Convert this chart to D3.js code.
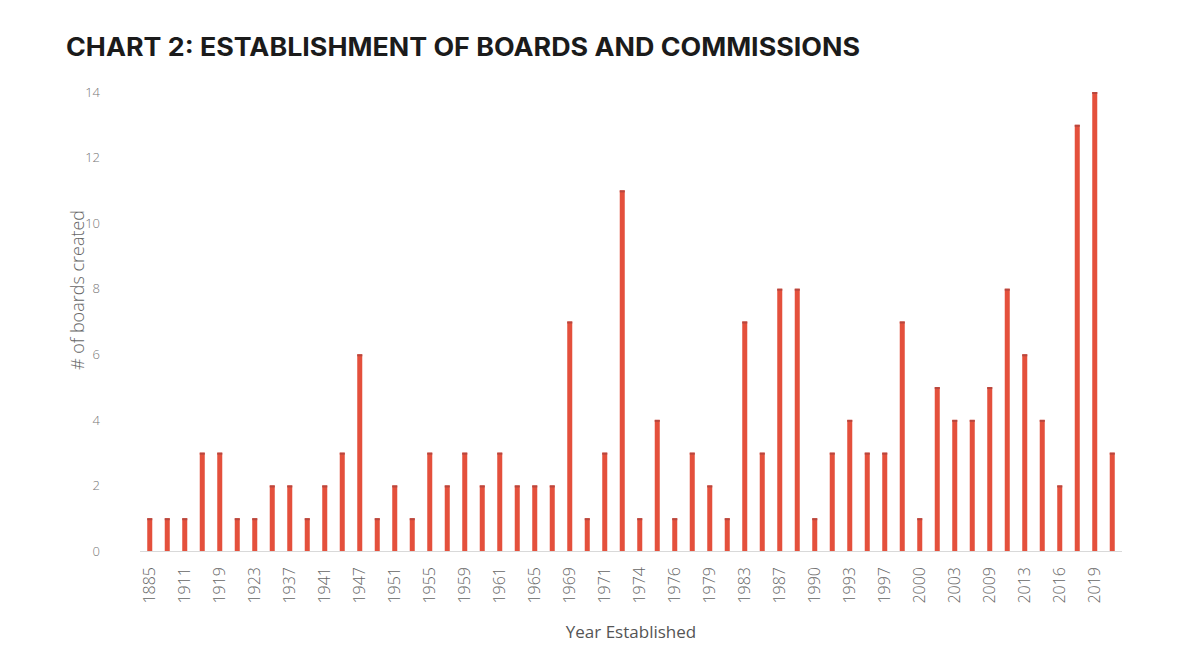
<!DOCTYPE html>
<html><head><meta charset="utf-8">
<script src="https://cdn.jsdelivr.net/npm/d3@7"></script>
<style>body{margin:0;background:#fff;} svg{display:block;}</style>
</head><body>
<script>
const years = ["1885","1909","1911","1913","1919","1921","1923","1930","1937","1939","1941","1945","1947","1949","1951","1953","1955","1957","1959","1960","1961","1963","1965","1967","1969","1970","1971","1972","1974","1975","1976","1977","1979","1981","1983","1985","1987","1989","1990","1991","1993","1995","1997","1998","2000","2001","2003","2005","2009","2011","2013","2015","2016","2018","2019","2020"];
const boards = [1,1,1,3,3,1,1,2,2,1,2,3,6,1,2,1,3,2,3,2,3,2,2,2,7,1,3,11,1,4,1,3,2,1,7,3,8,8,1,3,4,3,3,7,1,5,4,4,5,8,6,4,2,13,14,3];
const yTicks = [0,2,4,6,8,10,12,14];

const W=1194,H=664;
const svg=d3.select("body").append("svg").attr("width",W).attr("height",H);

svg.append("text").attr("x",66).attr("y",56)
  .attr("font-family","Inter, 'Open Sans', sans-serif").attr("font-weight",700)
  .attr("font-size",25).attr("fill","#1b1b1b")
  .attr("textLength",794).attr("lengthAdjust","spacingAndGlyphs")
  .text("CHART 2: ESTABLISHMENT OF BOARDS AND COMMISSIONS");

const x=d3.scaleBand().domain(years).range([141,1121]).paddingInner(0.714).paddingOuter(0.357);
const y=d3.scaleLinear().domain([0,14]).range([551,92]);

svg.append("line").attr("x1",140).attr("x2",1122).attr("y1",y(0)+0.5).attr("y2",y(0)+0.5)
  .attr("stroke","#d9d9d9").attr("stroke-width",1);

svg.append("g").selectAll("rect").data(years).join("rect")
  .attr("x",d=>x(d)).attr("width",x.bandwidth())
  .attr("y",(d,i)=>y(boards[i])).attr("height",(d,i)=>y(0)-y(boards[i]))
  .attr("fill","#e4503c");
svg.append("g").selectAll("rect").data(years).join("rect")
  .attr("x",d=>x(d)).attr("width",x.bandwidth())
  .attr("y",(d,i)=>y(boards[i])).attr("height",2)
  .attr("fill","#b8473e");

const ya=svg.append("g").attr("transform","translate(100,0)")
  .call(d3.axisLeft(y).tickValues(yTicks).tickSize(0).tickPadding(0));
ya.select(".domain").remove();
ya.selectAll("text").attr("font-family","'Open Sans', sans-serif").attr("font-weight",300).attr("font-size",13).attr("fill","#777");

const xa=svg.append("g").attr("transform","translate(0,567)")
  .call(d3.axisBottom(x).tickValues(years.filter((d,i)=>i%2===0)).tickSize(0).tickPadding(0));
xa.select(".domain").remove();
xa.selectAll("text").attr("font-family","'Open Sans', sans-serif").attr("font-weight",300).attr("font-size",16).attr("fill","#666")
  .attr("transform","rotate(-90)").attr("text-anchor","end").attr("dy","0.35em").attr("x",0).attr("y",0);

svg.append("text").attr("transform","translate(84,290) rotate(-90)").attr("text-anchor","middle")
  .attr("font-family","'Open Sans', sans-serif").attr("font-weight",300).attr("font-size",18).attr("fill","#666")
  .text("# of boards created");
svg.append("text").attr("x",631).attr("y",638).attr("text-anchor","middle")
  .attr("font-family","'Open Sans', sans-serif").attr("font-size",17).attr("fill","#555")
  .text("Year Established");
</script>
</body></html>
